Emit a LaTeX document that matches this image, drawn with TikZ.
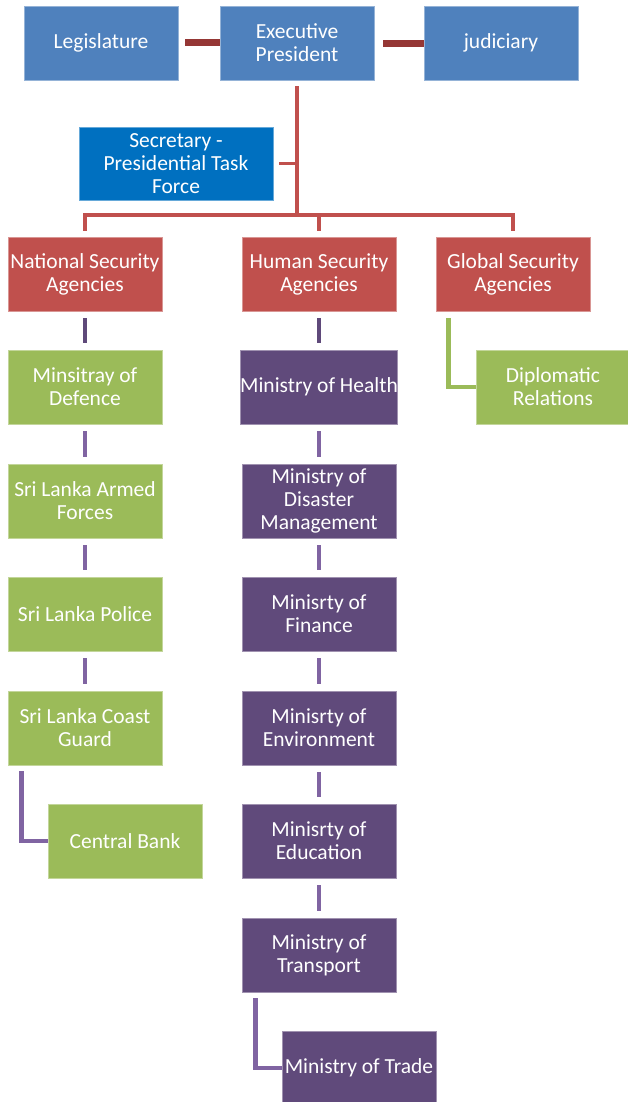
\documentclass[tikz,border=0pt]{standalone}
\usepackage{fontspec}
\setmainfont{Carlito}
\usetikzlibrary{calc}
\definecolor{cblue}{HTML}{4F81BD}
\definecolor{cbluedark}{HTML}{0070C0}
\definecolor{cred}{HTML}{C0504D}
\definecolor{credd}{HTML}{953735}
\definecolor{cgreen}{HTML}{9BBB59}
\definecolor{cpurple}{HTML}{604A7B}
\definecolor{cpurplel}{HTML}{8064A2}
\definecolor{cpurpled}{HTML}{5F497A}
\tikzset{
  box/.style={minimum width=154pt, minimum height=74pt, inner sep=0pt,
    text=white, align=center, font=\fontsize{21.5}{23}\selectfont,
    draw=#1!60!white, line width=0.8pt, fill=#1},
  topbar/.style={draw=credd, line width=7pt},
  tree/.style={draw=cred, line width=3.5pt},
  link/.style={draw=#1, line width=4.5pt},
}
\begin{document}
\begin{tikzpicture}[x=1pt,y=-1pt]
\useasboundingbox (0,0) rectangle (627,1102);

% top level
\node[box=cblue] (leg) at (101,43) {Legislature};
\node[box=cblue] (exe) at (297,43) {Executive\\President};
\node[box=cblue] (jud) at (501,43) {judiciary};
\node[box=cbluedark, minimum width=194pt, minimum height=73pt] (sec) at (176,163.5) {Secretary -\\Presidential Task\\Force};

% agencies
\node[box=cred] (nat) at (85,274) {National Security\\Agencies};
\node[box=cred] (hum) at (319,274) {Human Security\\Agencies};
\node[box=cred] (glo) at (513,274) {Global Security\\Agencies};

% national security column
\node[box=cgreen] (def) at (85,387) {Minsitray of\\Defence};
\node[box=cgreen] (arm) at (85,501) {Sri Lanka Armed\\Forces};
\node[box=cgreen] (pol) at (85,614) {Sri Lanka Police};
\node[box=cgreen] (cgd) at (85,728) {Sri Lanka Coast\\Guard};
\node[box=cgreen] (cbk) at (125,841) {Central Bank};

% human security column
\node[box=cpurple] (hea) at (319,387) {Ministry of Health};
\node[box=cpurple] (dis) at (319,501) {Ministry of\\Disaster\\Management};
\node[box=cpurple] (fin) at (319,614) {Minisrty of\\Finance};
\node[box=cpurple] (env) at (319,728) {Minisrty of\\Environment};
\node[box=cpurple] (edu) at (319,841) {Minisrty of\\Education};
\node[box=cpurple] (tra) at (319,955) {Ministry of\\Transport};
\node[box=cpurple] (trd) at (359,1068) {Ministry of Trade};

% global security column
\node[box=cgreen] (dip) at (553,387) {Diplomatic\\Relations};

% top bars
\draw[topbar] ([xshift=7pt]leg.east) -- (exe.west);
\draw[topbar] ([xshift=9pt,yshift=-1pt]exe.east) -- ([yshift=-1pt]jud.west);

% tree below the president
\coordinate (hub) at (297,215);
\draw[tree] ([yshift=-6pt]exe.south) -- (hub);
\draw[tree] ([xshift=6pt]sec.east) -- (sec.east -| hub);
\draw[tree] ([yshift=6pt]nat.north) |- (hub) -| ([yshift=6pt]glo.north);
\draw[tree] ([yshift=6pt]hum.north) -- (hum.north |- hub);

% national security links
\draw[link=cpurpled] ([yshift=-7pt]nat.south) -- ([yshift=7pt]def.north);
\draw[link=cpurplel] ([yshift=-7pt]def.south) -- ([yshift=7pt]arm.north);
\draw[link=cpurplel] ([yshift=-7pt]arm.south) -- ([yshift=7pt]pol.north);
\draw[link=cpurplel] ([yshift=-7pt]pol.south) -- ([yshift=7pt]cgd.north);
\draw[link=cpurplel] ([xshift=14pt,yshift=-6pt]cgd.south west) |- (cbk.west);

% human security links
\draw[link=cpurpled] ([yshift=-7pt]hum.south) -- ([yshift=7pt]hea.north);
\draw[link=cpurplel] ([yshift=-7pt]hea.south) -- ([yshift=7pt]dis.north);
\draw[link=cpurplel] ([yshift=-7pt]dis.south) -- ([yshift=7pt]fin.north);
\draw[link=cpurplel] ([yshift=-7pt]fin.south) -- ([yshift=7pt]env.north);
\draw[link=cpurplel] ([yshift=-7pt]env.south) -- ([yshift=7pt]edu.north);
\draw[link=cpurplel] ([yshift=-7pt]edu.south) -- ([yshift=7pt]tra.north);
\draw[link=cpurplel] ([xshift=14pt,yshift=-6pt]tra.south west) |- (trd.west);

% global security link
\draw[link=cgreen] ([xshift=13pt,yshift=-7pt]glo.south west) |- (dip.west);
\end{tikzpicture}
\end{document}
